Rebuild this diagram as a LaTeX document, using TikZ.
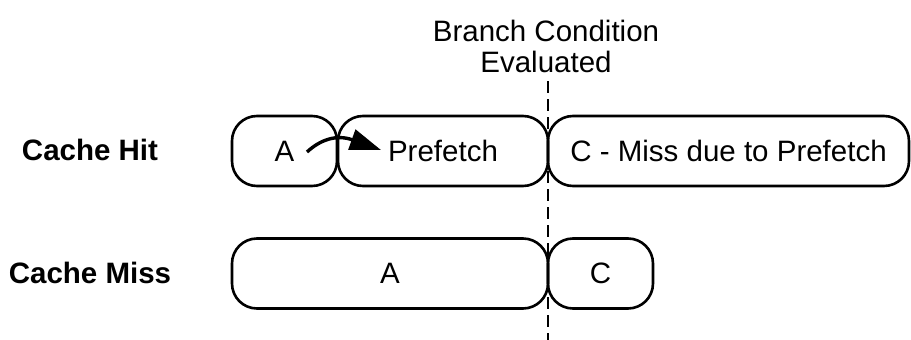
\documentclass[tikz,border=0pt]{standalone}
\usepackage{fontspec}
\setmainfont{Liberation Sans}
\usetikzlibrary{arrows.meta}
\begin{document}
\begin{tikzpicture}[x=1pt,y=-1pt,
  phase/.style={draw, line width=2.6pt, rounded corners=25pt, inner sep=0pt,
    minimum height=70pt, font=\fontsize{29.5}{35}\selectfont},
  rowlabel/.style={font=\fontsize{29.5}{35}\selectfont\bfseries},
  caption/.style={align=center, font=\fontsize{29.5}{31}\selectfont}]
\useasboundingbox (0,0) rectangle (911,340);

% heading and evaluation marker
\node[caption] (title) at (546,46) {Branch Condition\\Evaluated};
\coordinate (dtop) at (548,81);
\coordinate (dbot) at (548,340);
\draw[line width=1.8pt, dash pattern=on 12pt off 6pt] (dtop) -- (dbot);

% row labels
\node[rowlabel] (hit) at (90,150) {Cache Hit};
\node[rowlabel] (miss) at (90,273) {Cache Miss};

% cache hit timeline
\node[phase, minimum width=105pt] (hitA) at (284.5,151) {A};
\node[phase, minimum width=210pt] (pref) at (443,151) {Prefetch};
\node[phase, minimum width=361pt] (hitC) at (728.5,151) {C - Miss due to Prefetch};

% cache miss timeline
\node[phase, minimum width=316pt] (missA) at (390,273.5) {A};
\node[phase, minimum width=105pt] (missC) at (600.5,273.5) {C};

% prefetch issued from A
\coordinate (arrS) at (307,152);
\coordinate (arrE) at (381,150);
\draw[line width=3.4pt, -{Triangle[length=31pt, width=21pt]}]
  (arrS) .. controls (320,140) and (336,134) .. (arrE);
\end{tikzpicture}
\end{document}
